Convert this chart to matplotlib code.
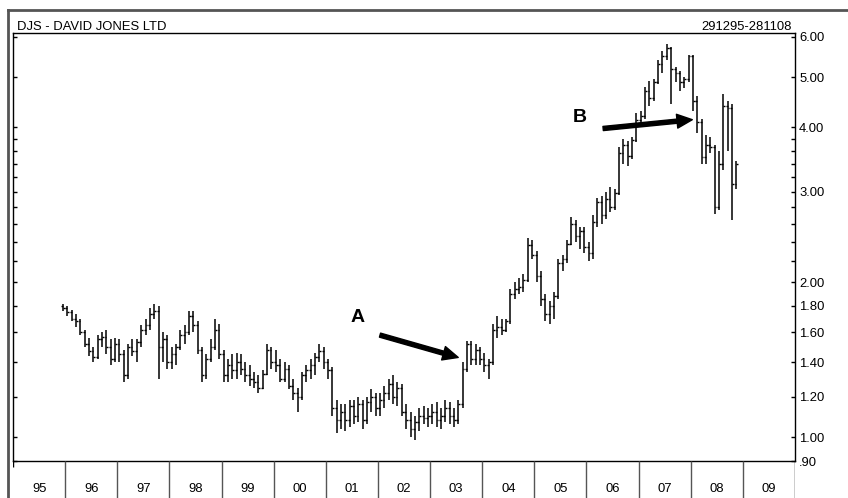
import pandas as pd
import matplotlib
matplotlib.use('Agg')
import matplotlib.pyplot as plt
from matplotlib.lines import Line2D
from matplotlib.ticker import FixedLocator, NullFormatter

plt.rcParams['font.family'] = ['Liberation Sans', 'DejaVu Sans']

# monthly bars, Dec 1995 .. Nov 2008
opens = [1.80,
         1.78, 1.75, 1.70, 1.68, 1.60, 1.52, 1.47, 1.43, 1.55, 1.57, 1.50, 1.42,
         1.52, 1.45, 1.32, 1.50, 1.47, 1.53, 1.62, 1.65, 1.74, 1.76, 1.50, 1.55,
         1.40, 1.45, 1.50, 1.58, 1.60, 1.72, 1.65, 1.48, 1.32, 1.42, 1.50, 1.62,
         1.45, 1.32, 1.38, 1.35, 1.40, 1.36, 1.32, 1.30, 1.28, 1.25, 1.33, 1.48,
         1.40, 1.38, 1.30, 1.36, 1.26, 1.22, 1.20, 1.32, 1.35, 1.38, 1.43, 1.47,
         1.40, 1.35, 1.14, 1.08, 1.12, 1.08, 1.15, 1.10, 1.16, 1.08, 1.17, 1.20,
         1.14, 1.18, 1.22, 1.27, 1.20, 1.25, 1.12, 1.08, 1.04, 1.07, 1.10, 1.09,
         1.10, 1.12, 1.08, 1.10, 1.14, 1.10, 1.08, 1.16, 1.36, 1.52, 1.42, 1.48,
         1.42, 1.38, 1.40, 1.62, 1.64, 1.62, 1.68, 1.90, 1.94, 1.96, 2.02, 2.36,
         2.26, 2.06, 1.86, 1.74, 1.80, 1.88, 2.18, 2.22, 2.38, 2.60, 2.46, 2.52,
         2.34, 2.28, 2.62, 2.86, 2.70, 2.90, 2.80, 2.98, 3.56, 3.70, 3.52, 3.78,
         4.14, 4.20, 4.70, 4.56, 4.90, 5.30, 5.50, 5.70, 5.20, 5.10, 4.90, 4.96,
         5.50, 4.50, 4.10, 3.50, 3.70, 3.66, 2.80, 3.40, 4.40, 4.36, 3.10]
highs = [1.82,
         1.80, 1.77, 1.74, 1.70, 1.62, 1.56, 1.50, 1.58, 1.60, 1.62, 1.55, 1.56,
         1.55, 1.48, 1.52, 1.55, 1.55, 1.65, 1.70, 1.78, 1.82, 1.80, 1.60, 1.58,
         1.50, 1.52, 1.62, 1.65, 1.76, 1.76, 1.68, 1.50, 1.45, 1.55, 1.70, 1.66,
         1.48, 1.42, 1.45, 1.46, 1.45, 1.40, 1.38, 1.34, 1.32, 1.35, 1.52, 1.50,
         1.48, 1.42, 1.40, 1.38, 1.30, 1.25, 1.34, 1.38, 1.42, 1.46, 1.52, 1.50,
         1.42, 1.37, 1.18, 1.16, 1.16, 1.18, 1.18, 1.20, 1.18, 1.20, 1.24, 1.22,
         1.22, 1.26, 1.30, 1.32, 1.28, 1.27, 1.16, 1.12, 1.10, 1.14, 1.15, 1.14,
         1.16, 1.17, 1.14, 1.18, 1.17, 1.14, 1.18, 1.40, 1.54, 1.54, 1.52, 1.50,
         1.46, 1.42, 1.66, 1.72, 1.70, 1.70, 1.94, 2.00, 2.04, 2.08, 2.44, 2.42,
         2.30, 2.10, 1.90, 1.84, 1.92, 2.22, 2.26, 2.42, 2.68, 2.64, 2.56, 2.56,
         2.40, 2.70, 2.92, 2.94, 3.00, 3.06, 3.04, 3.66, 3.80, 3.76, 3.84, 4.26,
         4.30, 4.80, 4.92, 4.96, 5.40, 5.62, 5.80, 5.74, 5.24, 5.14, 5.00, 5.52,
         5.52, 4.60, 4.16, 3.86, 3.84, 3.70, 3.60, 4.64, 4.50, 4.44, 3.44]
lows = [1.76,
        1.72, 1.68, 1.64, 1.58, 1.50, 1.44, 1.40, 1.42, 1.50, 1.45, 1.38, 1.40,
        1.40, 1.28, 1.30, 1.44, 1.40, 1.50, 1.58, 1.62, 1.70, 1.30, 1.40, 1.36,
        1.36, 1.38, 1.48, 1.52, 1.58, 1.60, 1.45, 1.28, 1.30, 1.40, 1.48, 1.42,
        1.28, 1.28, 1.30, 1.30, 1.32, 1.28, 1.26, 1.25, 1.22, 1.24, 1.32, 1.36,
        1.34, 1.28, 1.28, 1.24, 1.18, 1.12, 1.18, 1.28, 1.30, 1.32, 1.40, 1.36,
        1.30, 1.10, 1.02, 1.04, 1.03, 1.05, 1.06, 1.07, 1.04, 1.06, 1.12, 1.10,
        1.10, 1.14, 1.18, 1.16, 1.15, 1.10, 1.04, 1.00, 0.99, 1.03, 1.06, 1.05,
        1.06, 1.05, 1.04, 1.07, 1.06, 1.05, 1.06, 1.14, 1.34, 1.38, 1.38, 1.38,
        1.34, 1.30, 1.38, 1.56, 1.58, 1.60, 1.66, 1.86, 1.90, 1.92, 2.00, 2.22,
        2.00, 1.80, 1.68, 1.66, 1.70, 1.86, 2.10, 2.18, 2.36, 2.40, 2.32, 2.28,
        2.20, 2.22, 2.56, 2.60, 2.66, 2.74, 2.76, 2.96, 3.40, 3.36, 3.48, 3.74,
        4.00, 4.16, 4.40, 4.50, 4.86, 5.10, 5.40, 4.44, 4.90, 4.70, 4.76, 4.90,
        4.30, 3.90, 3.40, 3.40, 3.56, 2.72, 2.76, 3.30, 3.60, 2.64, 3.04]
closes = [1.78,
          1.75, 1.70, 1.68, 1.60, 1.52, 1.47, 1.43, 1.55, 1.57, 1.50, 1.42, 1.52,
          1.45, 1.32, 1.50, 1.47, 1.53, 1.62, 1.65, 1.74, 1.76, 1.50, 1.55, 1.40,
          1.45, 1.50, 1.58, 1.60, 1.72, 1.65, 1.48, 1.32, 1.42, 1.50, 1.62, 1.45,
          1.32, 1.38, 1.35, 1.40, 1.36, 1.32, 1.30, 1.28, 1.25, 1.33, 1.48, 1.40,
          1.38, 1.30, 1.36, 1.26, 1.22, 1.20, 1.32, 1.35, 1.38, 1.43, 1.47, 1.40,
          1.35, 1.14, 1.08, 1.12, 1.08, 1.15, 1.10, 1.16, 1.08, 1.17, 1.20, 1.14,
          1.18, 1.22, 1.27, 1.20, 1.25, 1.12, 1.08, 1.04, 1.07, 1.10, 1.09, 1.10,
          1.12, 1.08, 1.10, 1.14, 1.10, 1.08, 1.16, 1.36, 1.52, 1.42, 1.48, 1.42,
          1.38, 1.40, 1.62, 1.64, 1.62, 1.68, 1.90, 1.94, 1.96, 2.02, 2.36, 2.26,
          2.06, 1.86, 1.74, 1.80, 1.88, 2.18, 2.22, 2.38, 2.60, 2.46, 2.52, 2.34,
          2.28, 2.62, 2.86, 2.70, 2.90, 2.80, 2.98, 3.56, 3.70, 3.52, 3.78, 4.14,
          4.20, 4.70, 4.56, 4.90, 5.30, 5.50, 5.70, 5.20, 5.10, 4.90, 4.96, 5.50,
          4.50, 4.10, 3.50, 3.70, 3.66, 2.80, 3.40, 4.40, 4.36, 3.10, 3.40]

years = ['95', '96', '97', '98', '99', '00', '01', '02',
         '03', '04', '05', '06', '07', '08', '09']
price_ticks = [0.9, 1.0, 1.2, 1.4, 1.6, 1.8, 2.0, 3.0, 4.0, 5.0, 6.0]
price_labels = ['.90', '1.00', '1.20', '1.40', '1.60', '1.80', '2.00',
                '3.00', '4.00', '5.00', '6.00']
minor_ticks = [2.2, 2.4, 2.6, 2.8, 3.2, 3.4, 3.6, 3.8]

dates = pd.date_range('1995-12-01', periods=len(closes), freq='MS')
t = dates.year + (dates.month - 0.5) / 12

fig = plt.figure(figsize=(8.48, 4.98), dpi=100)
ax = fig.add_axes([13/848, 37/498, 782/848, 428/498])
ax.set_yscale('log')

ax.vlines(t, lows, highs, color='black', lw=1.1)
ax.hlines(opens, t - 0.035, t, color='black', lw=1)
ax.hlines(closes, t, t + 0.035, color='black', lw=1)

ax.set_xlim(1995, 2010)
ax.set_ylim(0.9, 6.1)
ax.set_xticks([])
ax.yaxis.set_major_locator(FixedLocator(price_ticks))
ax.set_yticks(price_ticks, labels=price_labels)
ax.yaxis.set_minor_locator(FixedLocator(minor_ticks))
ax.yaxis.set_minor_formatter(NullFormatter())
ax.tick_params(axis='y', which='both', direction='in', left=True, right=True,
               labelleft=False, labelright=True, length=3, width=1,
               labelsize=9.4, pad=3)
for s in ax.spines.values():
    s.set_linewidth(1)

# arrows A and B
ax.annotate('', xy=(2003.54, 1.43), xytext=(2002.04, 1.58),
            arrowprops=dict(facecolor='black', edgecolor='black',
                            width=3, headwidth=10, headlength=11, shrink=0))
ax.text(2001.6, 1.71, 'A', fontsize=14, fontweight='bold', ha='center', va='center')
ax.annotate('', xy=(2008.03, 4.14), xytext=(2006.32, 3.98),
            arrowprops=dict(facecolor='black', edgecolor='black',
                            width=3, headwidth=10, headlength=11, shrink=0))
ax.text(2005.88, 4.18, 'B', fontsize=14, fontweight='bold', ha='center', va='center')

# year strip under the chart
ax2 = fig.add_axes([13/848, 0, 782/848, 37/498])
ax2.set_xlim(1995, 2010)
ax2.set_ylim(0, 1)
ax2.axis('off')
ax2.vlines(range(1996, 2010), 0, 1, color='#555555', lw=1)
ax2.vlines(2010, 0, 1, color='black', lw=1)
ax2.vlines(1995, 0.85, 1, color='black', lw=1)
for i, yl in enumerate(years):
    ax2.text(1995.5 + i, 0.24, yl, ha='center', va='center', fontsize=9.4)

fig.text(17/848, 1 - 27/498, 'DJS - DAVID JONES LTD', va='center', fontsize=9.4)
fig.text(792/848, 1 - 27/498, '291295-281108', va='center', ha='right', fontsize=9.4)

# outer frame (left and top)
fig.add_artist(Line2D([8/848, 8/848], [0, 1 - 10/498], color='#555555', lw=2,
                      transform=fig.transFigure))
fig.add_artist(Line2D([8/848, 1], [1 - 10/498, 1 - 10/498], color='#555555', lw=2,
                      transform=fig.transFigure))

fig.savefig('out.png', dpi=100)
